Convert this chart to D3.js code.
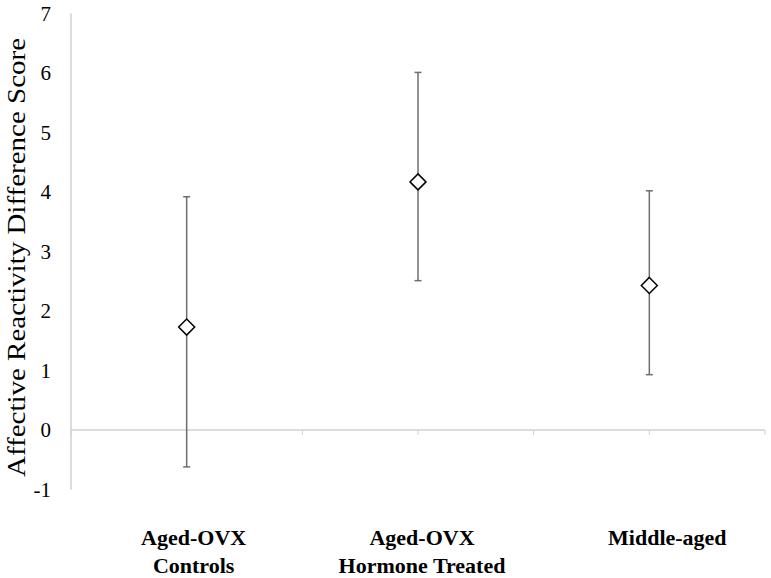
<!DOCTYPE html>
<meta charset="utf-8">
<style>
    body { margin: 0; background: #fff; }
    text { font-family: 'Liberation Serif', 'DejaVu Serif', serif; fill: #000; }
</style>
<script src="https://d3js.org/d3.v7.min.js"></script>
<div id="chart"></div>
<script>

    // data
    var groups = ["Aged-OVX|Controls", "Aged-OVX|Hormone Treated", "Middle-aged"];
    var means = [1.73, 4.17, 2.43];
    var upper = [3.92, 6.01, 4.02];
    var lower = [-0.62, 2.51, 0.93];
    var yTicks = [-1, 0, 1, 2, 3, 4, 5, 6, 7];
    // label nudges, the labels in the original sit a bit off centre
    var labelShift = [7, 4, 18];

    var W = 771, H = 578;
    var plotLeft = 71, plotRight = 765, plotTop = 13.5, plotBottom = 489.5;
    var serif = "'Liberation Serif', 'DejaVu Serif', serif";

    var svg = d3.select("#chart").append("svg")
        .attr("width", W)
        .attr("height", H);

    var x = d3.scaleBand()
        .domain(groups)
        .range([plotLeft, plotRight])
        .padding(0);

    var y = d3.scaleLinear()
        .domain([-1, 7])
        .range([plotBottom, plotTop]);

    // half-band tick positions along the zero line
    var xi = d3.scaleLinear().domain([-0.5, 2.5]).range([plotLeft, plotRight]);
    var halfTicks = d3.range(-0.5, 2.51, 0.5);

    // y axis line
    svg.append("line")
        .attr("x1", plotLeft).attr("x2", plotLeft)
        .attr("y1", y(7)).attr("y2", y(-1))
        .attr("stroke", "#d0d0d0")
        .attr("stroke-width", 1.5);

    // zero line with small ticks
    svg.append("line")
        .attr("x1", plotLeft).attr("x2", plotRight)
        .attr("y1", y(0)).attr("y2", y(0))
        .attr("stroke", "#d0d0d0")
        .attr("stroke-width", 1.5);

    svg.append("g")
        .selectAll("line")
        .data(halfTicks)
        .enter()
        .append("line")
        .attr("x1", function (d) { return xi(d); })
        .attr("x2", function (d) { return xi(d); })
        .attr("y1", y(0))
        .attr("y2", y(0) + 5)
        .attr("stroke", "#d0d0d0")
        .attr("stroke-width", 1);

    // y tick labels
    svg.append("g")
        .selectAll("text")
        .data(yTicks)
        .enter()
        .append("text")
        .attr("x", 51)
        .attr("y", function (d) { return y(d); })
        .attr("dy", "0.35em")
        .attr("text-anchor", "end")
        .attr("font-family", serif)
        .style("font-size", "21px")
        .text(function (d) { return d; });

    // y title
    svg.append("text")
        .attr("transform", "translate(25,257.5) rotate(-90)")
        .attr("text-anchor", "middle")
        .attr("font-family", serif)
        .attr("textLength", 439)
        .attr("lengthAdjust", "spacingAndGlyphs")
        .style("font-size", "25px")
        .text("Affective Reactivity Difference Score");

    // error bars
    var bars = svg.append("g");
    groups.forEach(function (g, i) {
        var cx = x(g) + x.bandwidth() / 2;
        bars.append("line")
            .attr("x1", cx).attr("x2", cx)
            .attr("y1", y(upper[i])).attr("y2", y(lower[i]))
            .attr("stroke", "#6e6e6e")
            .attr("stroke-width", 1.5);
        [upper[i], lower[i]].forEach(function (v) {
            bars.append("line")
                .attr("x1", cx - 3.5).attr("x2", cx + 3.5)
                .attr("y1", y(v)).attr("y2", y(v))
                .attr("stroke", "#6e6e6e")
                .attr("stroke-width", 1.5);
        });
    });

    // diamond markers
    svg.append("g")
        .selectAll("path")
        .data(groups)
        .enter()
        .append("path")
        .attr("transform", function (d, i) {
            return "translate(" + (x(d) + x.bandwidth() / 2) + "," + y(means[i]) + ")";
        })
        .attr("d", "M0,-8L8,0L0,8L-8,0Z")
        .attr("fill", "#fff")
        .attr("stroke", "#000")
        .attr("stroke-width", 1.5);

    // category labels
    var lab = svg.append("g");
    groups.forEach(function (g, i) {
        var t = lab.append("text")
            .attr("text-anchor", "middle")
            .attr("font-family", serif)
            .style("font-size", "22px")
            .style("font-weight", "bold");
        g.split("|").forEach(function (line, j) {
            t.append("tspan")
                .attr("x", x(g) + x.bandwidth() / 2 + labelShift[i])
                .attr("y", 545 + j * 28)
                .text(line);
        });
    });

</script>
